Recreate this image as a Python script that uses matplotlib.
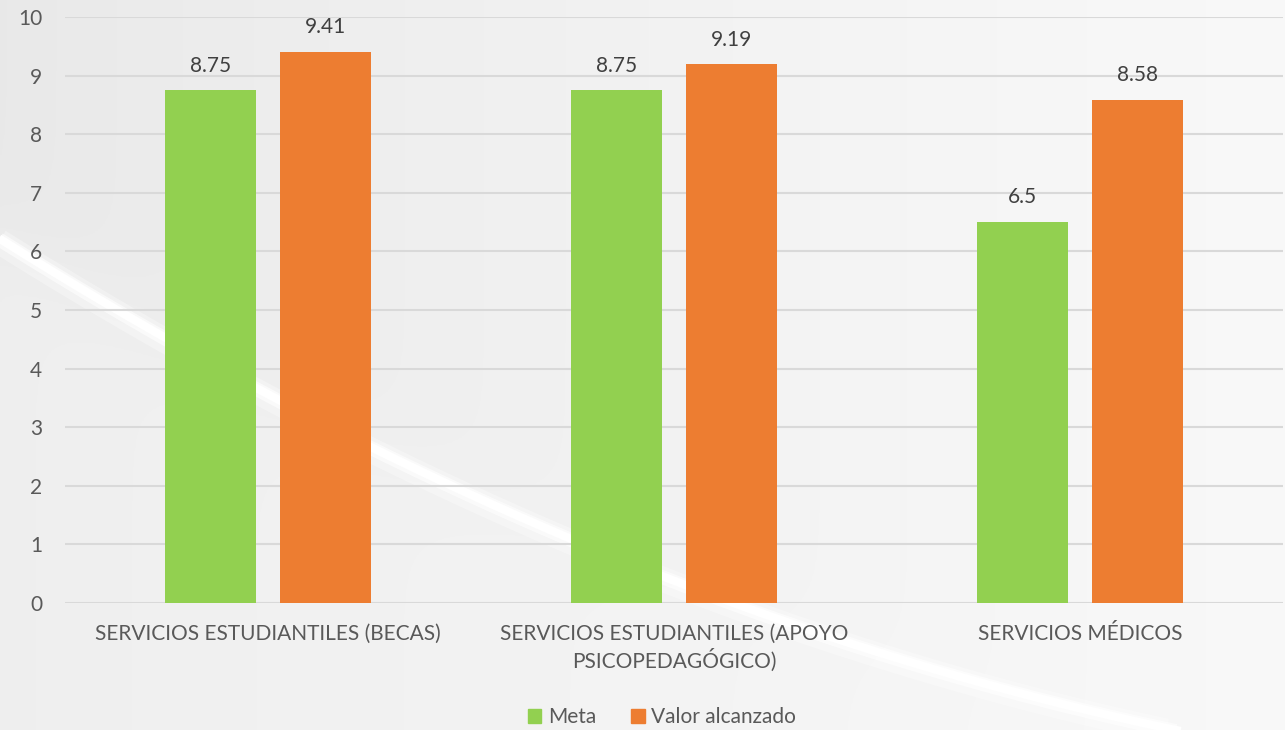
import numpy as np
import matplotlib.pyplot as plt
from matplotlib.patches import Patch

categories = ["SERVICIOS ESTUDIANTILES (BECAS)",
              "SERVICIOS ESTUDIANTILES (APOYO\nPSICOPEDAGÓGICO)",
              "SERVICIOS MÉDICOS"]
meta = [8.75, 8.75, 6.5]
valor = [9.41, 9.19, 8.58]
meta_labels = ["8.75", "8.75", "6.5"]
valor_labels = ["9.41", "9.19", "8.58"]
series_names = ["Meta", "Valor alcanzado"]
yticks = list(range(0, 11))

GREEN = "#92D050"
ORANGE = "#ED7D31"
TXT = "#595959"
FONT = ['Lato', 'DejaVu Sans']

plt.rcParams['font.family'] = FONT

W, H = 1285, 730
fig = plt.figure(figsize=(W / 100, H / 100), dpi=100)

# background gradient (pixel coordinates, y downward)
bg = fig.add_axes([0, 0, 1, 1], zorder=-10)
px = np.linspace(0, W, 500)
py = np.linspace(0, H, 300)
PX, PY = np.meshgrid(px, py)


def curve(v):
    return 239 + 0.627 * v - 1.781e-4 * v ** 2


grad = 0.925 + 0.05 * (PX / W) ** 0.8
above = 1 / (1 + np.exp((PY - curve(PX)) / 25.0))
grad = grad - 0.012 * above * np.clip(1 - PX / 1100, 0, 1) + 0.01 * (1 - above) * np.clip(1 - PX / 700, 0, 1)
grad = np.clip(grad, 0, 1)
bg.imshow(np.dstack([grad, grad, grad]), extent=[0, W, H, 0], origin='upper', aspect='auto')
# white swoosh (decoration)
sx = np.linspace(-5, 1290, 400)
sy = curve(sx)
for lw, al, dy in [(18, 0.3, 3), (10, 0.6, 1), (6, 1.0, 0)]:
    bg.plot(sx, sy + dy, color='white', lw=lw, alpha=al, solid_capstyle='butt')
bg.set_xlim(0, W)
bg.set_ylim(H, 0)
bg.axis('off')

ax = fig.add_axes([65 / W, 1 - 603 / H, (1283 - 65) / W, (603 - 17) / H])
ax.patch.set_alpha(0)

x = np.arange(len(categories))
bw = 0.224
off = 0.1416
b1 = ax.bar(x - off, meta, bw, color=GREEN, zorder=3)
b2 = ax.bar(x + off, valor, bw, color=ORANGE, zorder=3)

for bars, labs in [(b1, meta_labels), (b2, valor_labels)]:
    for rect, lab in zip(bars, labs):
        ax.annotate(lab, (rect.get_x() + rect.get_width() / 2, rect.get_height()),
                    xytext=(0, 13.5), textcoords='offset points', ha='center',
                    va='baseline', fontsize=15, color="#404040")

ax.set_xlim(-0.5, 2.5)
ax.set_ylim(0, 10)
ax.set_yticks(yticks)
ax.yaxis.grid(True, color="#d9d9d9", lw=1.5, zorder=0)
ax.set_axisbelow(True)
for s in ax.spines.values():
    s.set_visible(False)
ax.tick_params(axis='both', length=0, labelsize=15, labelcolor=TXT)
ax.tick_params(axis='y', pad=16.5)
ax.set_xticks(x)
ax.set_xticklabels(categories, fontsize=15, linespacing=1.25)
ax.tick_params(axis='x', pad=15)

handles = [Patch(color=GREEN), Patch(color=ORANGE)]
fig.legend(handles, series_names, loc='center', bbox_to_anchor=(662 / W, 1 - 717 / H),
           ncol=2, frameon=False, fontsize=15, labelcolor=TXT, handlelength=0.65,
           handleheight=0.65, handletextpad=0.3, columnspacing=1.7,
           borderpad=0, borderaxespad=0)

fig.savefig("out.png", dpi=100)
